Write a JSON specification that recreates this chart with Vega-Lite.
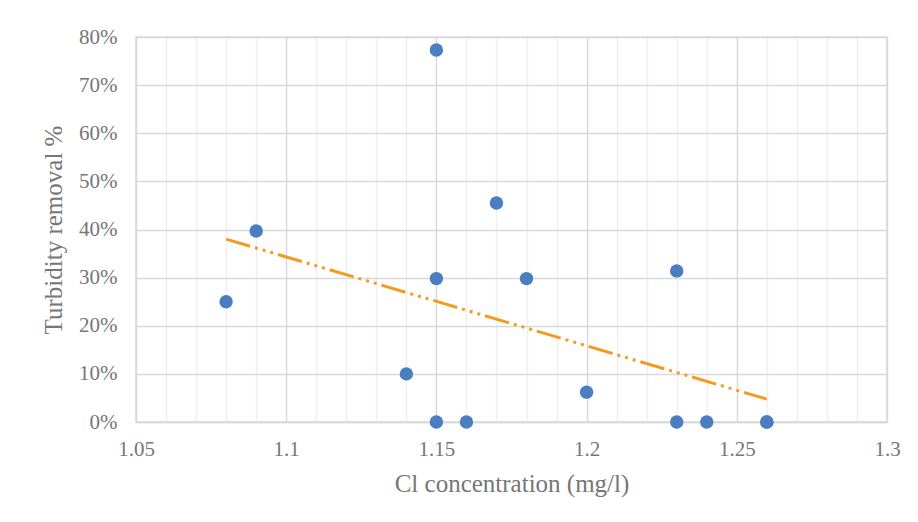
{
  "$schema": "https://vega.github.io/schema/vega-lite/v6.json",
  "autosize": "none",
  "width": 751,
  "height": 385,
  "padding": {"left": 136, "top": 37, "right": 31, "bottom": 100},
  "background": "white",
  "config": {
    "view": {"stroke": "#d9d9d9", "strokeWidth": 1.5},
    "font": "Liberation Serif"
  },
  "datasets": {
    "points": [
      {"cl": 1.08, "removal": 0.25},
      {"cl": 1.09, "removal": 0.397},
      {"cl": 1.14, "removal": 0.10},
      {"cl": 1.15, "removal": 0.773},
      {"cl": 1.15, "removal": 0.298},
      {"cl": 1.15, "removal": 0.0},
      {"cl": 1.16, "removal": 0.0},
      {"cl": 1.17, "removal": 0.455},
      {"cl": 1.18, "removal": 0.298},
      {"cl": 1.2, "removal": 0.062},
      {"cl": 1.23, "removal": 0.314},
      {"cl": 1.23, "removal": 0.0},
      {"cl": 1.24, "removal": 0.0},
      {"cl": 1.26, "removal": 0.0},
      {"cl": 1.26, "removal": 0.0}
    ],
    "trend": [
      {"cl": 1.08, "removal": 0.380},
      {"cl": 1.26, "removal": 0.0475}
    ]
  },
  "layer": [
    {
      "data": {"name": "trend"},
      "mark": {"type": "line", "color": "#f39b1f", "strokeWidth": 3, "strokeDash": [25, 5, 3, 5, 3, 5, 3, 5]},
      "encoding": {
        "x": {
          "field": "cl", "type": "quantitative",
          "scale": {"domain": [1.05, 1.3], "nice": false, "zero": false},
          "axis": {
            "title": "Cl concentration (mg/l)",
            "values": [1.05, 1.06, 1.07, 1.08, 1.09, 1.1, 1.11, 1.12, 1.13, 1.14, 1.15, 1.16, 1.17, 1.18, 1.19, 1.2, 1.21, 1.22, 1.23, 1.24, 1.25, 1.26, 1.27, 1.28, 1.29, 1.3],
            "tickCount": 40,
            "labelExpr": "abs(datum.value*20 - round(datum.value*20)) < 0.001 ? format(datum.value, '') : ''",
            "grid": true,
            "gridColor": {"condition": {"test": "abs(datum.value*20 - round(datum.value*20)) < 0.001", "value": "#d9d9d9"}, "value": "#efefef"},
            "gridWidth": 1.5,
            "ticks": false,
            "domain": true,
            "domainColor": "#d9d9d9",
            "domainWidth": 1.5,
            "labelFont": "Liberation Serif",
            "labelFontSize": 21,
            "labelColor": "#767676",
            "labelPadding": 16,
            "labelFlush": false,
            "labelOverlap": false,
            "titleFont": "Liberation Serif",
            "titleFontSize": 25,
            "titleFontWeight": "normal",
            "titleColor": "#767676",
            "titlePadding": 12
          }
        },
        "y": {
          "field": "removal", "type": "quantitative",
          "scale": {"domain": [0, 0.8], "nice": false},
          "axis": {
            "title": "Turbidity removal %",
            "values": [0, 0.1, 0.2, 0.3, 0.4, 0.5, 0.6, 0.7, 0.8],
            "tickCount": 20,
            "format": ".0%",
            "grid": true,
            "gridColor": "#d9d9d9",
            "gridWidth": 1.5,
            "ticks": false,
            "domain": false,
            "labelFont": "Liberation Serif",
            "labelFontSize": 21,
            "labelColor": "#767676",
            "labelPadding": 19,
            "labelFlush": false,
            "titleFont": "Liberation Serif",
            "titleFontSize": 25,
            "titleFontWeight": "normal",
            "titleColor": "#767676",
            "titlePadding": 12
          }
        }
      }
    },
    {
      "data": {"name": "points"},
      "mark": {"type": "circle", "color": "#4a7ec0", "opacity": 1, "size": 180},
      "encoding": {
        "x": {"field": "cl", "type": "quantitative"},
        "y": {"field": "removal", "type": "quantitative"}
      }
    }
  ]
}
